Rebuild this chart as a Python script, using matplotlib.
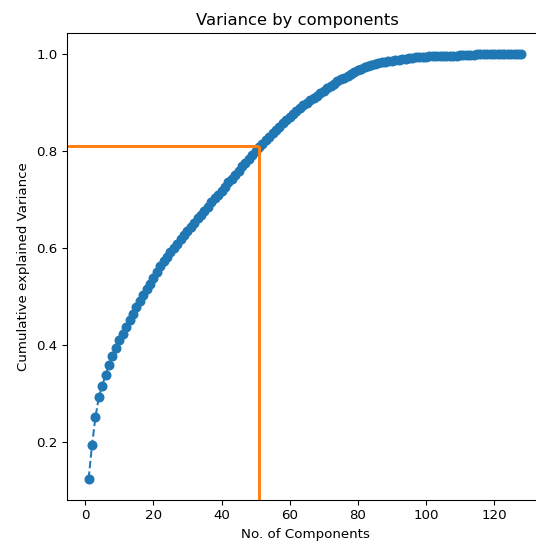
import numpy as np
import matplotlib
matplotlib.use("Agg")
import matplotlib.pyplot as plt

# Number of PCA components kept
components = np.arange(1, 129)

# Cumulative explained variance
cum_variance = [
    0.125, 0.195, 0.252, 0.293, 0.317, 0.339, 0.360, 0.378, 0.395, 0.410,
    0.424, 0.438, 0.452, 0.465, 0.478, 0.491, 0.503, 0.515, 0.527, 0.539,
    0.551, 0.562, 0.573, 0.582, 0.591, 0.600, 0.609, 0.618, 0.627, 0.635,
    0.644, 0.652, 0.661, 0.669, 0.677, 0.685, 0.694, 0.702, 0.710, 0.718,
    0.726, 0.735, 0.743, 0.751, 0.759, 0.768, 0.776, 0.784, 0.792, 0.800,
    0.808, 0.815, 0.822, 0.829, 0.836, 0.843, 0.850, 0.857, 0.864, 0.870,
    0.876, 0.882, 0.888, 0.894, 0.899, 0.904, 0.909, 0.914, 0.919, 0.924,
    0.929, 0.934, 0.938, 0.943, 0.947, 0.951, 0.955, 0.959, 0.963, 0.966,
    0.969, 0.972, 0.975, 0.977, 0.979, 0.981, 0.983, 0.984, 0.985, 0.986,
    0.987, 0.988, 0.989, 0.990, 0.991, 0.992, 0.993, 0.993, 0.994, 0.994,
    0.995, 0.995, 0.995, 0.995, 0.996, 0.996, 0.996, 0.996, 0.996, 0.998,
    0.998, 0.998, 0.998, 0.998, 0.999, 0.999, 0.999, 0.999, 0.999, 0.999,
    0.999, 0.999, 0.999, 0.999, 0.999, 0.999, 0.999, 0.999,
]

# Chosen cut-off: number of components and the variance it keeps
n_keep = 51
var_keep = 0.81

fig = plt.figure(figsize=(536 / 96, 548 / 96), dpi=96)
# the original screenshot is cropped on the right, so the axes run past the edge
ax = fig.add_axes([67 / 536, 48 / 548, 476 / 536, 467 / 548])
ax.spines["right"].set_visible(False)

ax.plot(components, cum_variance, marker="o", linestyle="--", markersize=6.5)

# Draw the cut-off lines out to the axes edges without changing the limits
xlim = ax.get_xlim()
ylim = ax.get_ylim()
ax.vlines(n_keep, ylim[0], var_keep, color="C1", linewidth=2.2)
ax.hlines(var_keep, xlim[0], n_keep, color="C1", linewidth=2.2)
ax.set_xlim(xlim)
ax.set_ylim(ylim)

ax.set_title("Variance by components", fontsize=12.3, x=0.484)
ax.set_xlabel("No. of Components")
ax.set_ylabel("Cumulative explained Variance", labelpad=5)

fig.savefig("out.png", dpi=96)
